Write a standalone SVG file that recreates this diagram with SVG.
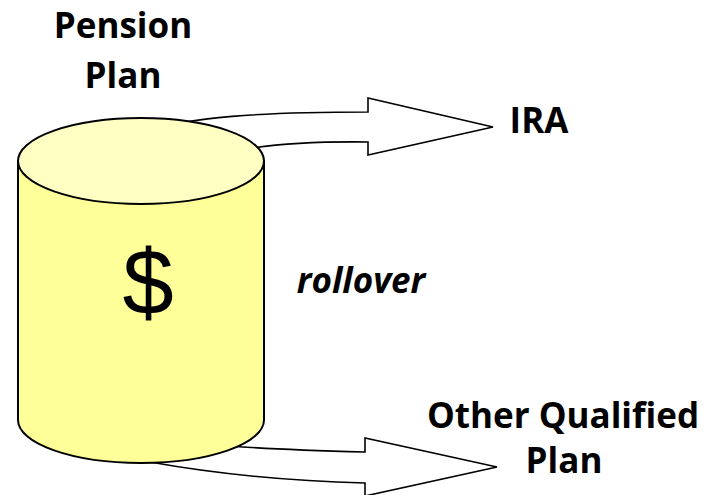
<svg xmlns="http://www.w3.org/2000/svg" width="707" height="495" viewBox="0 0 707 495">
  <style>
    .label { font-family: "Open Sans", "Liberation Sans", sans-serif; font-weight: bold; font-size: 35px; fill: #000; text-anchor: middle; }
    .italic { font-style: italic; }
    .arrow { fill: #fff; stroke: #000; stroke-width: 1.6; stroke-linejoin: miter; }
    .side { fill: #ffff99; stroke: #000; stroke-width: 2; }
    .lid { fill: #ffffc4; stroke: #000; stroke-width: 2; }
    .dollar { font-family: "Liberation Sans", Arial, sans-serif; font-size: 92px; fill: #000; text-anchor: middle; }
  </style>

  <rect width="707" height="495" fill="#fff"/>

  <!-- curved block arrows, drawn first so the cylinder sits over their tails -->
  <g id="connectors">
    <path class="arrow" d="M140,132 C190,117 260,112 368,112 L368,98 L493,127 L368,155 L368,142 Q280,141 230,152 Z"/>
    <path class="arrow" d="M180,440 Q215,448 365,452 L365,438 L497,467 L365,496 L365,483 Q250,480 150,462 L120,445 Z"/>
  </g>

  <!-- storage cylinder -->
  <g id="pension-plan">
    <path class="side" d="M18,161 L18,420 A123,43 0 0 0 264,420 L264,161 Z"/>
    <ellipse class="lid" cx="141" cy="161" rx="123" ry="43"/>
    <text class="dollar" x="148" y="314">$</text>
    <text class="label" x="123" y="38">Pension</text>
    <text class="label" x="123" y="88">Plan</text>
  </g>

  <g id="ira">
    <text class="label" x="539" y="133">IRA</text>
  </g>

  <g id="other-plan">
    <text class="label" x="563" y="428">Other Qualified</text>
    <text class="label" x="564" y="473">Plan</text>
  </g>

  <g id="rollover">
    <text class="label italic" x="361" y="293">rollover</text>
  </g>
</svg>
